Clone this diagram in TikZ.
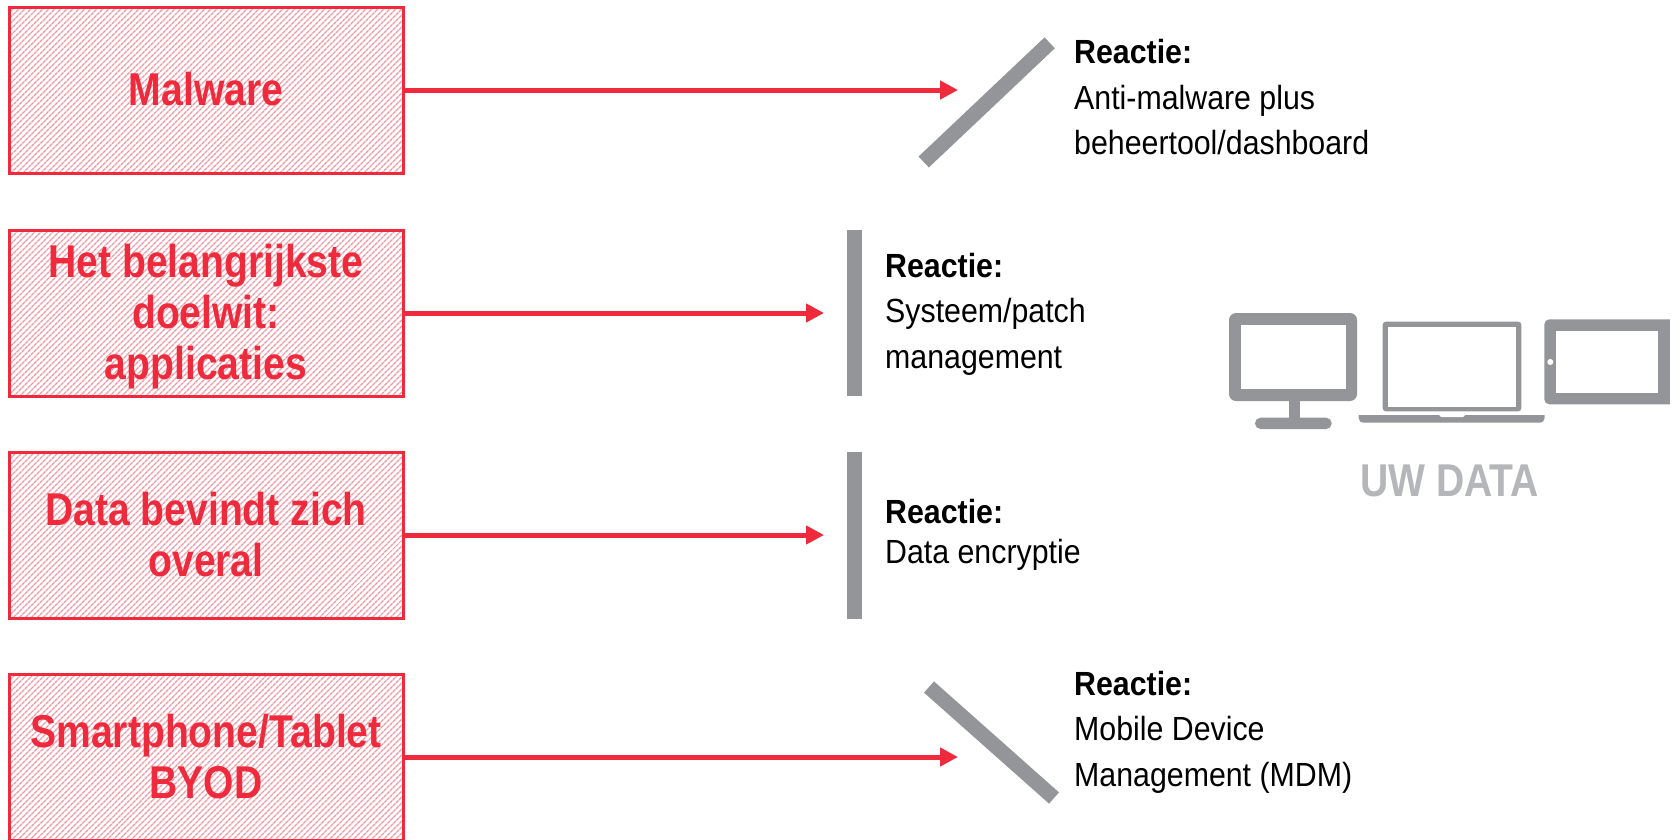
\documentclass[tikz,border=0pt]{standalone}
\usepackage{fontspec}
\setmainfont[FakeStretch=0.85]{Liberation Sans}
\newfontfamily\replyfont[FakeStretch=0.905]{Liberation Sans}
\usetikzlibrary{arrows.meta,patterns.meta}
\definecolor{redc}{HTML}{EE2A3C}
\definecolor{hatchc}{HTML}{EC9BA5}
\definecolor{greyc}{HTML}{939598}
\definecolor{datac}{HTML}{B5B6B9}
\tikzset{
  threat/.style={draw=redc,line width=3pt,minimum width=394pt,minimum height=166pt,inner sep=0pt,
    pattern={Lines[angle=45,distance=4pt,line width=1.5pt]},pattern color=hatchc},
  threattext/.style={align=center,inner sep=0pt,text=redc,font=\fontsize{46}{51}\bfseries\selectfont},
  flow/.style={redc,line width=5pt,-{Triangle[length=18pt,width=18pt]}},
  barline/.style={greyc,line width=15pt},
  reply/.style={anchor=west,align=left,inner sep=0pt,font=\replyfont\fontsize{33.5}{45.5}\selectfont},
}
\begin{document}
\begin{tikzpicture}[x=1pt,y=-1pt]
\useasboundingbox (0,0) rectangle (1677,839);
\clip (0,0) rectangle (1677,839);
\fill[white] (0,0) rectangle (1677,839);

\node[threat] (b1) at (206,90) {};
\node[threat] (b2) at (206,313) {};
\node[threat] (b3) at (206,535) {};
\node[threat] (b4) at (206,757) {};
\node[threattext] (t1) at (206,89) {Malware};
\node[threattext] (t2) at (206,317) {Het belangrijkste\\doelwit:\\applicaties};
\node[threattext] (t3) at (206,535) {Data bevindt zich\\overal};
\node[threattext] (t4) at (206,757) {Smartphone/Tablet\\BYOD};

\coordinate (e1) at (958,90);
\coordinate (e2) at (824,313);
\coordinate (e3) at (824,535);
\coordinate (e4) at (958,757);
\draw[flow] (b1.east) -- (e1);
\draw[flow] (b2.east) -- (e2);
\draw[flow] (b3.east) -- (e3);
\draw[flow] (b4.east) -- (e4);

\coordinate (t1a) at (1049.7,42.8);
\coordinate (t1b) at (923.7,162);
\coordinate (t2a) at (854.5,230);
\coordinate (t2b) at (854.5,396);
\coordinate (t3a) at (854.5,452);
\coordinate (t3b) at (854.5,619);
\coordinate (t4a) at (929,687);
\coordinate (t4b) at (1054,798);
\draw[barline] (t1a) -- (t1b);
\draw[barline] (t2a) -- (t2b);
\draw[barline] (t3a) -- (t3b);
\draw[barline] (t4a) -- (t4b);

\node[reply] (r1) at (1074,97.5) {\textbf{Reactie:}\\Anti-malware plus\\beheertool/dashboard};
\node[reply] (r2) at (885,314) {\textbf{Reactie:}\\Systeem/patch\\management};
\node[reply] (r3) at (885,534.5) {\textbf{Reactie:}\\[-5.5pt]Data encryptie};
\node[reply] (r4) at (1074,732) {\textbf{Reactie:}\\Mobile Device\\Management (MDM)};

% monitor
\fill[greyc,rounded corners=7pt] (1229,313) rectangle (1357,401);
\fill[white] (1240.7,325) rectangle (1346,389);
\fill[greyc] (1289,400) rectangle (1300,419);
\fill[greyc,rounded corners=5.5pt] (1255,417.7) rectangle (1331.7,429);
% laptop
\fill[greyc,rounded corners=3pt] (1382.7,321.7) rectangle (1521.3,411.3);
\fill[white] (1388.3,326.7) rectangle (1516,406.7);
\fill[greyc] (1358.7,415) -- (1544.7,415) -- (1544.7,418) .. controls (1544.7,421) and (1542,422.7) .. (1540,422.7) -- (1363,422.7) .. controls (1361,422.7) and (1358.7,421) .. (1358.7,418) -- cycle;
\fill[white] (1439,415) -- (1465,415) -- (1463,417) -- (1441,417) -- cycle;
% tablet
\fill[greyc,rounded corners=5pt] (1544.3,319.3) rectangle (1680,404.3);
\fill[white] (1670,310) rectangle (1680,410);
\fill[white] (1555.7,331) rectangle (1658.3,393);
\fill[white] (1550.3,362) circle (3pt);

\node[inner sep=0pt,text=datac,font=\fontsize{46}{51}\bfseries\selectfont] (data) at (1449.5,481) {UW DATA};
\end{tikzpicture}
\end{document}
